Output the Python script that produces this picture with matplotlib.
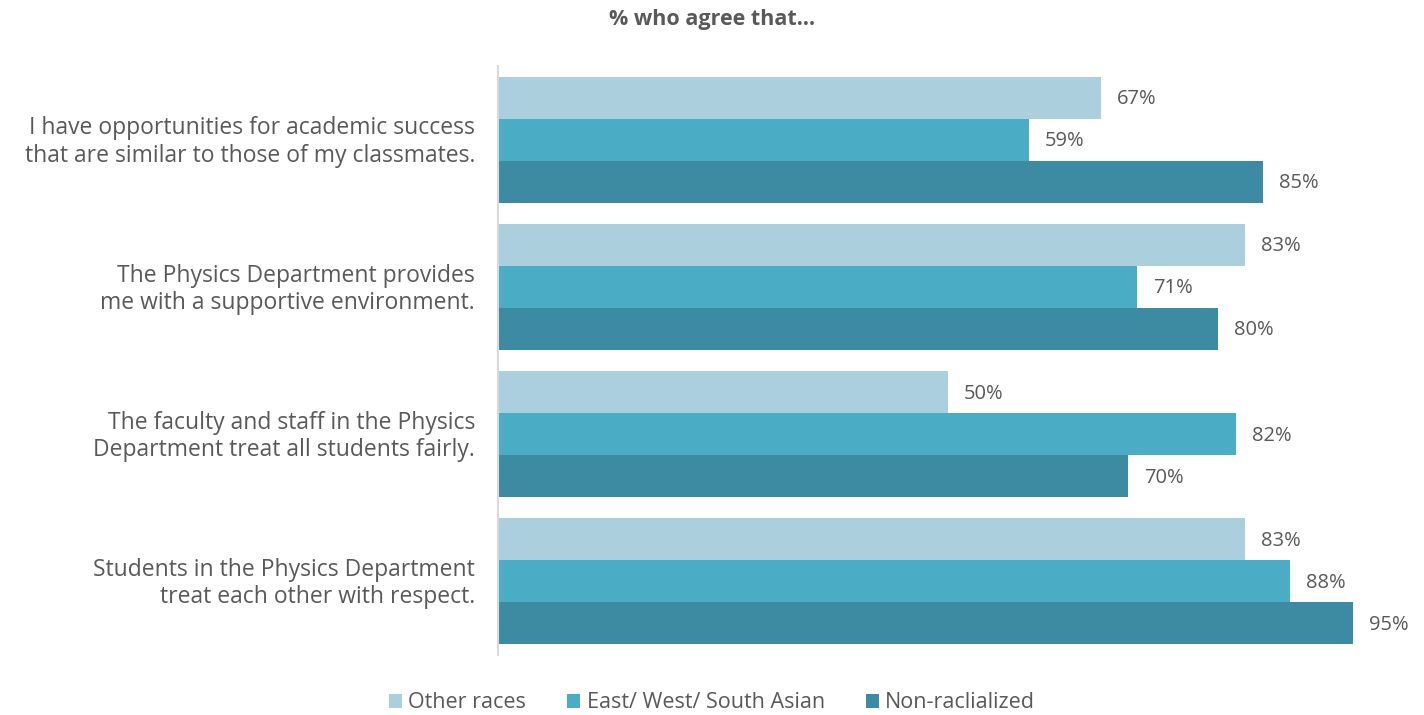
import numpy as np
import matplotlib.pyplot as plt
from matplotlib.patches import Patch

plt.rcParams['font.family'] = ['Open Sans', 'DejaVu Sans']

statements = [
    'I have opportunities for academic success\nthat are similar to those of my classmates.',
    'The Physics Department provides\nme with a supportive environment.',
    'The faculty and staff in the Physics\nDepartment treat all students fairly.',
    'Students in the Physics Department\ntreat each other with respect.',
]
groups = ['Other races', 'East/ West/ South Asian', 'Non-raclialized']
other_races = [67, 83, 50, 83]
asian = [59, 71, 82, 88]
non_racialized = [85, 80, 70, 95]
colors = ['#ABCFDD', '#4BACC6', '#3D8BA3']
text_color = '#595959'

fig = plt.figure(figsize=(14.24, 7.15), dpi=100)
ax = fig.add_axes([498 / 1424, 60 / 715, 900 / 1424, 589 / 715])

y = np.arange(len(statements))
h = 42 / 147
series = [other_races, asian, non_racialized]
for i, (vals, col) in enumerate(zip(series, colors)):
    pos = y + (i - 1) * h
    ax.barh(pos, vals, height=h, color=col, edgecolor='none')
    for p, v in zip(pos, vals):
        ax.text(v + 1.8, p + 0.01, f'{v}%', va='center', ha='left',
                fontsize=14.5, color=text_color)

ax.set_xlim(0, 100)
ax.set_ylim(3.5, -0.5)
ax.set_yticks(y - 0.015)
ax.set_yticklabels(statements, fontsize=16.5, color=text_color,
                   linespacing=1.18)
ax.tick_params(axis='y', length=0, pad=16.5)
ax.set_xticks([])
for s in ['top', 'right', 'bottom']:
    ax.spines[s].set_visible(False)
ax.spines['left'].set_color('#D9D9D9')
ax.spines['left'].set_linewidth(1.5)

fig.text(0.5, 1 - 20 / 715, '% who agree that...', ha='center', va='center',
         fontsize=15.5, fontweight='bold', color=text_color)

handles = [Patch(facecolor=c, edgecolor='none') for c in colors]
fig.legend(handles, groups, loc='center', bbox_to_anchor=(0.5, 1 - 703 / 715),
           ncol=3, frameon=False, labelcolor=text_color,
           prop={'size': 15.5},
           handlelength=0.6, handleheight=0.6, handletextpad=0.3,
           columnspacing=1.9)

fig.savefig('out.png', dpi=100)
